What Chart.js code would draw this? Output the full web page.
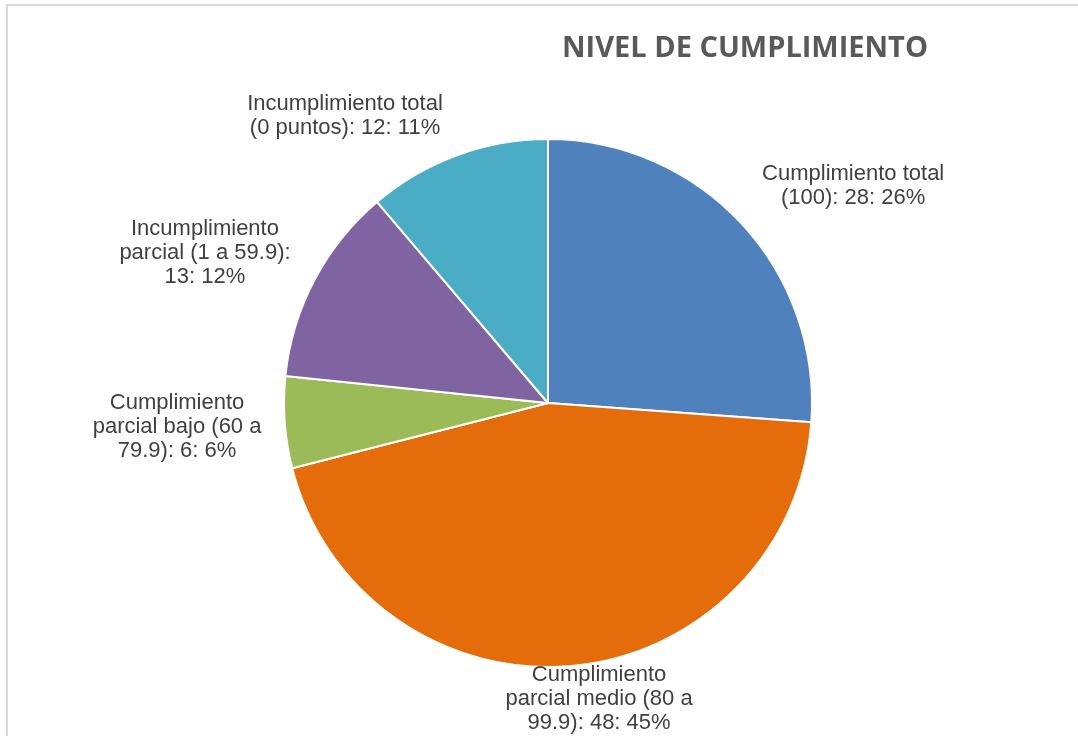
<!DOCTYPE html>
<html>
<head>
<meta charset="utf-8">
<script src="https://cdn.jsdelivr.net/npm/chart.js@4"></script>
<style>
  html, body { margin: 0; padding: 0; background: #ffffff; }
  #wrap { width: 1078px; height: 736px; position: relative; }
</style>
</head>
<body>
<div id="wrap"><canvas id="c" width="1078" height="736"></canvas></div>
<script>
const chartTitle = "NIVEL DE CUMPLIMIENTO";
const categories = [
  "Cumplimiento total (100)",
  "Cumplimiento parcial medio (80 a 99.9)",
  "Cumplimiento parcial bajo (60 a 79.9)",
  "Incumplimiento parcial (1 a 59.9)",
  "Incumplimiento total (0 puntos)"
];
const values = [28, 48, 6, 13, 12];
const colors = ["#4F81BD", "#E46C0A", "#9BBB59", "#8064A2", "#4BACC6"];

// label placement relative to each slice (degrees shift from mid-angle, distance in radii)
const labelAngleShift = [7.5, -4.75, 0.5, -4.15, -15.1];
const labelDistance = [1.418, 1.137, 1.408, 1.418, 1.331];

const total = values.reduce((a, b) => a + b, 0);

const decorPlugin = {
  id: 'decor',
  beforeDraw(chart) {
    const ctx = chart.ctx;
    ctx.save();
    ctx.fillStyle = '#ffffff';
    ctx.fillRect(0, 0, chart.width, chart.height);
    ctx.strokeStyle = '#d9d9d9';
    ctx.lineWidth = 2;
    ctx.beginPath();
    ctx.moveTo(7, chart.height + 5);
    ctx.lineTo(7, 5);
    ctx.lineTo(chart.width + 5, 5);
    ctx.stroke();
    ctx.restore();
  },
  afterDraw(chart) {
    const ctx = chart.ctx;
    ctx.save();
    // title
    ctx.fillStyle = '#595959';
    ctx.font = 'bold 29px "Open Sans", sans-serif';
    ctx.textAlign = 'center';
    ctx.textBaseline = 'middle';
    ctx.fillText(chartTitle, 745, 49);

    // data labels
    const meta = chart.getDatasetMeta(0);
    const fontSize = 22;
    const lineH = 24;
    ctx.font = fontSize + 'px "Liberation Sans", Arial, sans-serif';
    ctx.fillStyle = '#404040';
    const wrapW = 9.1 * fontSize;
    meta.data.forEach((arc, i) => {
      const p = arc.getProps(['x', 'y', 'startAngle', 'endAngle', 'outerRadius'], true);
      const mid = (p.startAngle + p.endAngle) / 2 + labelAngleShift[i] * Math.PI / 180;
      const r = p.outerRadius * labelDistance[i];
      const cx = p.x + r * Math.cos(mid);
      const cy = p.y + r * Math.sin(mid);
      const pct = Math.round(values[i] / total * 100);
      const text = categories[i] + ': ' + values[i] + ': ' + pct + '%';
      const words = text.split(' ');
      const lines = [];
      let cur = '';
      words.forEach(w => {
        const test = cur ? cur + ' ' + w : w;
        if (ctx.measureText(test).width > wrapW && cur) {
          lines.push(cur);
          cur = w;
        } else {
          cur = test;
        }
      });
      if (cur) lines.push(cur);
      const y0 = cy - (lines.length - 1) * lineH / 2;
      lines.forEach((ln, k) => ctx.fillText(ln, cx, y0 + k * lineH));
    });
    ctx.restore();
  }
};

new Chart(document.getElementById('c'), {
  type: 'pie',
  data: {
    labels: categories,
    datasets: [{
      data: values,
      backgroundColor: colors,
      borderColor: '#ffffff',
      borderWidth: 2
    }]
  },
  options: {
    responsive: false,
    animation: false,
    layout: { padding: { left: 283, right: 265, top: 138, bottom: 68 } },
    plugins: {
      legend: { display: false },
      title: { display: false },
      tooltip: { enabled: false }
    }
  },
  plugins: [decorPlugin]
});
</script>
</body>
</html>
